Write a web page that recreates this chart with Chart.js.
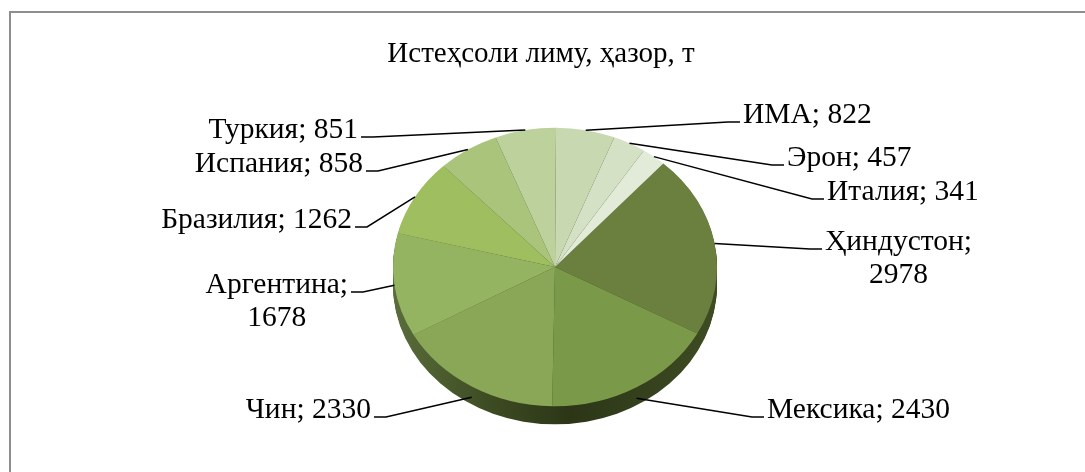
<!DOCTYPE html>
<html>
<head>
<meta charset="utf-8">
<script src="https://cdn.jsdelivr.net/npm/chart.js@4.4.0/dist/chart.umd.min.js"></script>
<style>
    html, body { margin: 0; padding: 0; background: #fff; }
    #wrap { position: relative; width: 1085px; height: 472px; overflow: hidden; }
    #frame {
        position: absolute; left: 9px; top: 11px; width: 1200px; height: 600px;
        border-left: 2px solid #8e8e8e; border-top: 2px solid #8e8e8e;
    }
    canvas { position: absolute; left: 0; top: 0; }
</style>
</head>
<body>
<div id="wrap">
    <div id="frame"></div>
    <canvas id="pieChart" width="1085" height="472"></canvas>
</div>
<script>
const chartTitle = 'Истеҳсоли лиму, ҳазор, т';
const categories = ['Ҳиндустон', 'Мексика', 'Чин', 'Аргентина', 'Бразилия', 'Испания', 'Туркия', 'ИМА', 'Эрон', 'Италия'];
const production = [2978, 2430, 2330, 1678, 1262, 858, 851, 822, 457, 341];

const sliceColors = ['#6b7f3f', '#7b9a49', '#8aa758', '#95b461', '#9ebe5f', '#aac57b', '#bcd19b', '#c8d8b0', '#d5e1c4', '#e2ead8'];

// where each label sits: x = text edge next to the pie, y = first line centre
const labelLayout = [
    { x: 825, y: 242, side: 'right', wrap: true },
    { x: 767, y: 410, side: 'right' },
    { x: 371, y: 410, side: 'left' },
    { x: 348, y: 285, side: 'left', wrap: true },
    { x: 352, y: 220, side: 'left' },
    { x: 363, y: 164, side: 'left' },
    { x: 358, y: 130, side: 'left' },
    { x: 743, y: 115, side: 'right' },
    { x: 787, y: 158, side: 'right' },
    { x: 827, y: 192, side: 'right' }
];

const tilt = 0.86;
const depth = 18;
const labelFont = '29.5px "Liberation Serif"';
const titleFont = '29px "Liberation Serif"';

const pie3d = {
    id: 'pie3d',
    beforeDatasetsDraw(chart) {
        const arc = chart.getDatasetMeta(0).data[0];
        const p = arc.getProps(['x', 'y', 'outerRadius'], true);
        const ctx = chart.ctx;
        ctx.save();
        ctx.translate(p.x, p.y);
        ctx.scale(1, tilt);
        ctx.translate(-p.x, -p.y);

        const grad = ctx.createLinearGradient(p.x - p.outerRadius, 0, p.x + p.outerRadius, 0);
        grad.addColorStop(0, '#5a6d3b');
        grad.addColorStop(0.3, '#3d4b22');
        grad.addColorStop(0.55, '#2c3617');
        grad.addColorStop(1, '#3e4c23');
        ctx.fillStyle = grad;
        for (let d = depth; d > 0; d--) {
            ctx.beginPath();
            ctx.arc(p.x, p.y + d / tilt, p.outerRadius, 0, Math.PI * 2);
            ctx.fill();
        }
    },
    afterDatasetsDraw(chart) {
        chart.ctx.restore();
    }
};

const pieLabels = {
    id: 'pieLabels',
    afterDraw(chart) {
        const ctx = chart.ctx;
        const meta = chart.getDatasetMeta(0);
        ctx.save();
        ctx.fillStyle = '#000';
        ctx.textBaseline = 'middle';
        ctx.textAlign = 'center';
        ctx.font = titleFont;
        ctx.fillText(chartTitle, 541, 54);

        ctx.font = labelFont;
        ctx.strokeStyle = '#000';
        ctx.lineWidth = 1.5;
        meta.data.forEach((arc, i) => {
            const p = arc.getProps(['x', 'y', 'startAngle', 'endAngle', 'outerRadius'], true);
            const mid = (p.startAngle + p.endAngle) / 2;
            const sx = p.x + p.outerRadius * Math.cos(mid);
            let sy = p.y + p.outerRadius * Math.sin(mid) * tilt;
            if (Math.sin(mid) > 0.5) sy += depth * 0.6;

            const lay = labelLayout[i];
            const lines = lay.wrap
                ? [categories[i] + ';', String(production[i])]
                : [categories[i] + '; ' + production[i]];
            const w = Math.max(...lines.map(t => ctx.measureText(t).width));
            const dir = lay.side === 'right' ? 1 : -1;
            const stubY = lay.y + 7;
            const near = lay.x - dir * 3;
            const far = near - dir * 12;

            ctx.beginPath();
            ctx.moveTo(sx, sy);
            ctx.lineTo(far, stubY);
            ctx.lineTo(near, stubY);
            ctx.stroke();

            const cx = lay.x + dir * w / 2;
            lines.forEach((t, k) => ctx.fillText(t, cx, lay.y + k * 33));
        });
        ctx.restore();
    }
};

const pieC = document.getElementById('pieChart').getContext('2d');
const pieChart = new Chart(pieC, {
    type: 'pie',
    data: {
        labels: categories,
        datasets: [{
            data: production,
            backgroundColor: sliceColors,
            borderWidth: 0
        }]
    },
    options: {
        responsive: false,
        animation: false,
        rotation: 42,
        radius: 162,
        layout: {
            padding: { top: 74, bottom: 12, left: 25, right: 0 }
        },
        plugins: {
            legend: { display: false },
            tooltip: { enabled: false },
            title: { display: false }
        }
    },
    plugins: [pie3d, pieLabels]
});
</script>
</body>
</html>
